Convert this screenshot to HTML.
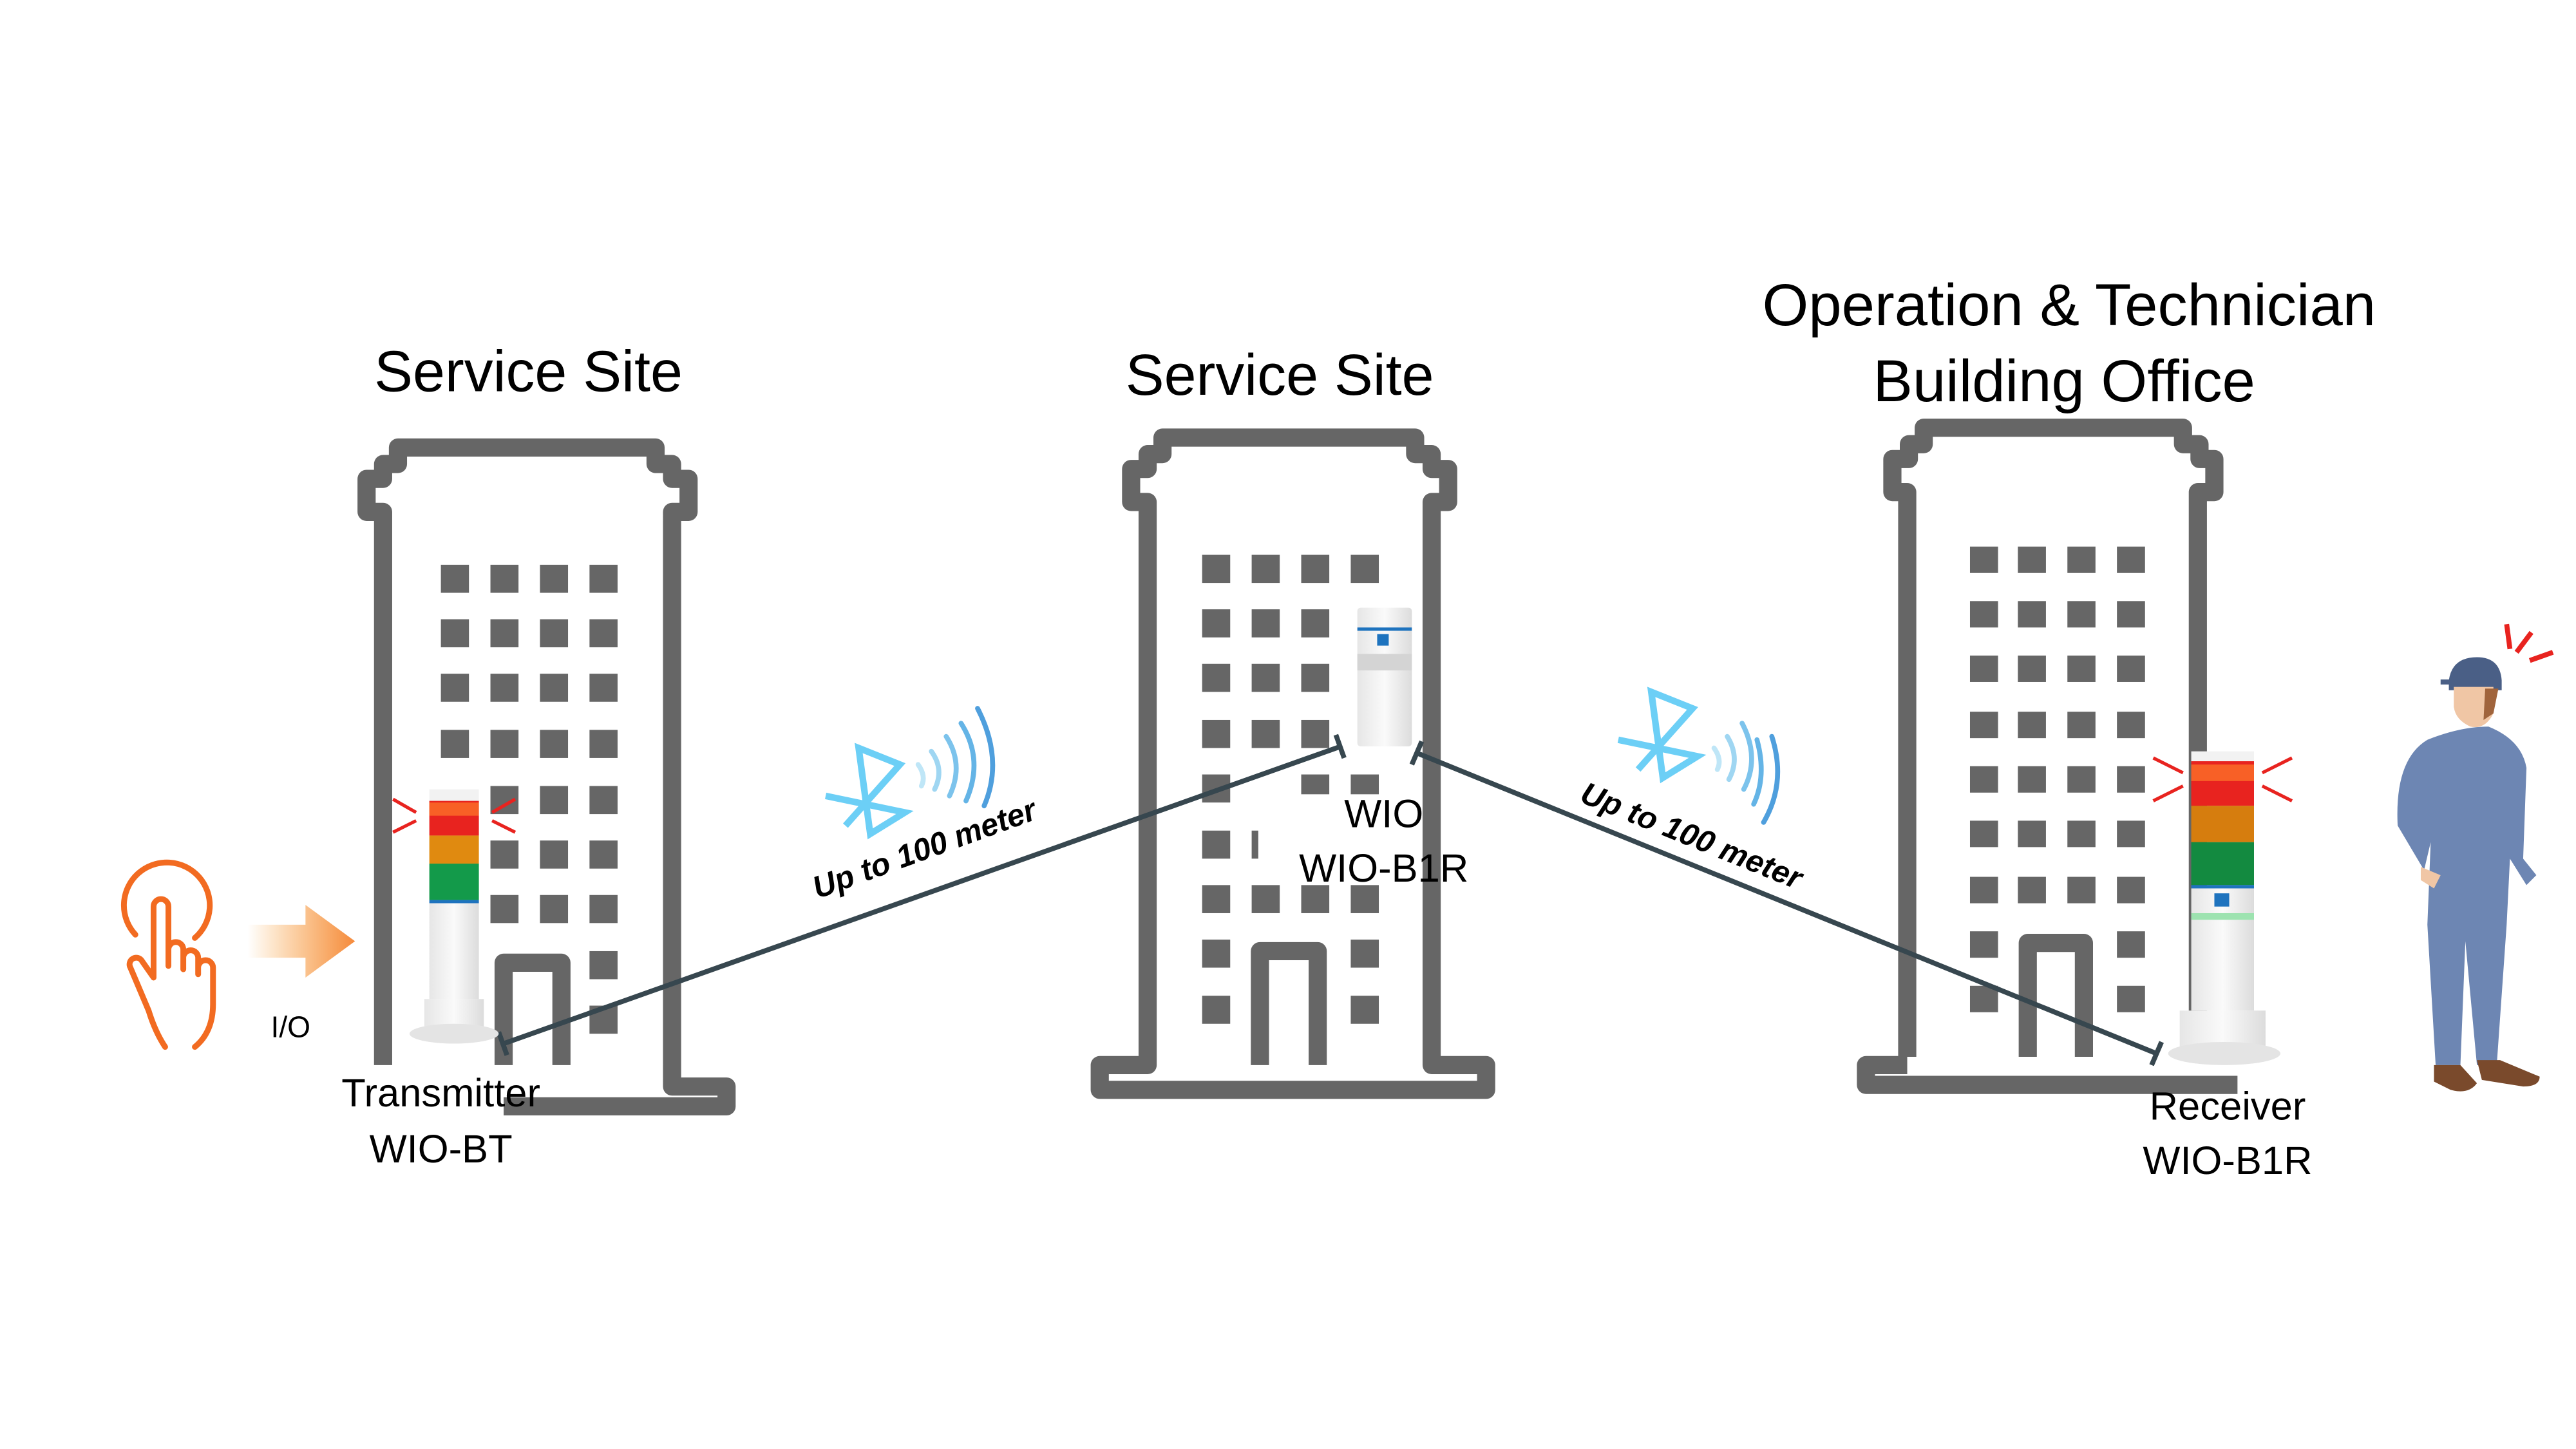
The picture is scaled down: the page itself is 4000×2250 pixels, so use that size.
<!DOCTYPE html>
<html><head><meta charset="utf-8"><style>
html,body{margin:0;padding:0;background:#fff;}
svg{display:block;}
text{font-family:"Liberation Sans",sans-serif;}
</style></head><body>
<svg width="4000" height="2250" viewBox="0 0 1560 877.5" xmlns="http://www.w3.org/2000/svg">
<defs>
<linearGradient id="arr" x1="0" x2="1"><stop offset="0" stop-color="#f7941d" stop-opacity="0"/><stop offset="1" stop-color="#f58a3c"/></linearGradient>
<linearGradient id="wh" x1="0" x2="1"><stop offset="0" stop-color="#e6e6e6"/><stop offset=".5" stop-color="#fafafa"/><stop offset="1" stop-color="#dcdcdc"/></linearGradient>
</defs>
<g fill="none" stroke="#666" stroke-width="11" stroke-linejoin="round">
<!-- building 1 -->
<path d="M232,645 V310 H222 V290 H232 V281 H241 V271 H397 V281 H407 V290 H417 V310 H407 V658 H440 V670 H305"/>
<path d="M305,645 V583 H340 V645"/>
<!-- building 2 -->
<path d="M695,645 V304 H685 V284 H695 V275 H704 V265 H857 V275 H867 V284 H877 V304 H867 V645 H900 V660 H666 V645 Z"/>
<path d="M763,645 V576 H798 V645"/>
<!-- building 3 -->
<path d="M1155,640 V298 H1146 V278 H1156 V269 H1165 V259 H1322 V269 H1332 V278 H1341 V298 H1331 V628"/>
<path d="M1155,645 H1130 V657 H1355"/>
<path d="M1228,640 V571 H1262 V640"/>
</g>
<g fill="#666">
<g>
<rect x="267" y="342" width="17" height="17"/><rect x="297" y="342" width="17" height="17"/><rect x="327" y="342" width="17" height="17"/><rect x="357" y="342" width="17" height="17"/>
<rect x="267" y="375" width="17" height="17"/><rect x="297" y="375" width="17" height="17"/><rect x="327" y="375" width="17" height="17"/><rect x="357" y="375" width="17" height="17"/>
<rect x="267" y="408" width="17" height="17"/><rect x="297" y="408" width="17" height="17"/><rect x="327" y="408" width="17" height="17"/><rect x="357" y="408" width="17" height="17"/>
<rect x="267" y="442" width="17" height="17"/><rect x="297" y="442" width="17" height="17"/><rect x="327" y="442" width="17" height="17"/><rect x="357" y="442" width="17" height="17"/>
<rect x="297" y="476" width="17" height="17"/><rect x="327" y="476" width="17" height="17"/><rect x="357" y="476" width="17" height="17"/>
<rect x="297" y="509" width="17" height="17"/><rect x="327" y="509" width="17" height="17"/><rect x="357" y="509" width="17" height="17"/>
<rect x="297" y="542" width="17" height="17"/><rect x="327" y="542" width="17" height="17"/><rect x="357" y="542" width="17" height="17"/>
<rect x="357" y="576" width="17" height="17"/><rect x="357" y="609" width="17" height="17"/>
</g>
<g>
<rect x="728" y="336" width="17" height="17"/><rect x="758" y="336" width="17" height="17"/><rect x="788" y="336" width="17" height="17"/><rect x="818" y="336" width="17" height="17"/>
<rect x="728" y="369" width="17" height="17"/><rect x="758" y="369" width="17" height="17"/><rect x="788" y="369" width="17" height="17"/>
<rect x="728" y="402" width="17" height="17"/><rect x="758" y="402" width="17" height="17"/><rect x="788" y="402" width="17" height="17"/>
<rect x="728" y="436" width="17" height="17"/><rect x="758" y="436" width="17" height="17"/><rect x="788" y="436" width="17" height="17"/>
<rect x="728" y="469" width="17" height="17"/><rect x="788" y="469" width="17" height="12"/><rect x="818" y="469" width="17" height="12"/>
<rect x="728" y="503" width="17" height="17"/><rect x="758" y="503" width="4" height="17"/>
<rect x="728" y="536" width="17" height="17"/><rect x="758" y="536" width="17" height="17"/><rect x="788" y="536" width="17" height="17"/><rect x="818" y="536" width="17" height="17"/>
<rect x="728" y="569" width="17" height="17"/><rect x="818" y="569" width="17" height="17"/>
<rect x="728" y="603" width="17" height="17"/><rect x="818" y="603" width="17" height="17"/>
</g>
<g>
<rect x="1193" y="331" width="17" height="16"/><rect x="1222" y="331" width="17" height="16"/><rect x="1252" y="331" width="17" height="16"/><rect x="1282" y="331" width="17" height="16"/>
<rect x="1193" y="364" width="17" height="16"/><rect x="1222" y="364" width="17" height="16"/><rect x="1252" y="364" width="17" height="16"/><rect x="1282" y="364" width="17" height="16"/>
<rect x="1193" y="397" width="17" height="16"/><rect x="1222" y="397" width="17" height="16"/><rect x="1252" y="397" width="17" height="16"/><rect x="1282" y="397" width="17" height="16"/>
<rect x="1193" y="431" width="17" height="16"/><rect x="1222" y="431" width="17" height="16"/><rect x="1252" y="431" width="17" height="16"/><rect x="1282" y="431" width="17" height="16"/>
<rect x="1193" y="464" width="17" height="16"/><rect x="1222" y="464" width="17" height="16"/><rect x="1252" y="464" width="17" height="16"/><rect x="1282" y="464" width="17" height="16"/>
<rect x="1193" y="497" width="17" height="16"/><rect x="1222" y="497" width="17" height="16"/><rect x="1252" y="497" width="17" height="16"/><rect x="1282" y="497" width="17" height="16"/>
<rect x="1193" y="531" width="17" height="16"/><rect x="1222" y="531" width="17" height="16"/><rect x="1252" y="531" width="17" height="16"/><rect x="1282" y="531" width="17" height="16"/>
<rect x="1193" y="564" width="17" height="16"/><rect x="1282" y="564" width="17" height="16"/>
<rect x="1193" y="597" width="17" height="16"/><rect x="1282" y="597" width="17" height="16"/>
</g>
</g>

<g fill="#000" font-size="35" text-anchor="middle">
<text x="320" y="237">Service Site</text>
<text x="775" y="239">Service Site</text>
<text x="1253" y="197" font-size="36">Operation &amp; Technician</text>
<text x="1250" y="243" font-size="36">Building Office</text>
</g>
<g fill="#000" font-size="24" text-anchor="middle">
<text x="267" y="670">Transmitter</text>
<text x="267" y="704">WIO-BT</text>
<text x="838" y="501">WIO</text>
<text x="838" y="534">WIO-B1R</text>
<text x="1349" y="678">Receiver</text>
<text x="1349" y="711">WIO-B1R</text>
<text x="176" y="628" font-size="18">I/O</text>
</g>

<g stroke="#37474f" stroke-width="3">
<line x1="305" y1="632" x2="812" y2="452"/>
<line x1="302" y1="625" x2="307" y2="639"/>
<line x1="809" y1="445" x2="814" y2="459"/>
<line x1="858" y1="456" x2="1306" y2="638"/>
<line x1="861" y1="449" x2="855" y2="463"/>
<line x1="1309" y1="631" x2="1303" y2="645"/>
</g>
<g font-size="19" font-weight="bold" font-style="italic" fill="#000" text-anchor="middle">
<text transform="translate(562,520) rotate(-20)">Up to 100 meter</text>
<text transform="translate(1022,512) rotate(22)">Up to 100 meter</text>
</g>

<g fill="none" stroke="#6ccff6" stroke-width="4" stroke-linejoin="miter">
<path d="M500,482 L548,492 L527,505 L520,453 L545,463 L512,500"/>
<path d="M980,448 L1028,458 L1007,471 L1000,419 L1025,429 L992,466"/>
</g>
<g fill="none" stroke-width="3" stroke-linecap="round">
<path d="M556,463 Q561,470 558,476" stroke="#bfe6f7"/>
<path d="M564,455 Q572,466 566,478" stroke="#9fd6f2"/>
<path d="M573,446 Q584,463 575,482" stroke="#7cc3ec"/>
<path d="M582,438 Q596,460 585,485" stroke="#64b4e6"/>
<path d="M592,429 Q608,460 596,488" stroke="#4f9fdd"/>
<path d="M1038,453 Q1043,460 1040,466" stroke="#bfe6f7"/>
<path d="M1046,446 Q1054,459 1047,472" stroke="#9fd6f2"/>
<path d="M1055,438 Q1066,459 1056,478" stroke="#7cc3ec"/>
<path d="M1064,448 Q1070,470 1062,487" stroke="#64b4e6"/>
<path d="M1073,446 Q1082,474 1068,498" stroke="#4f9fdd"/>
</g>

<g>
<rect x="260" y="478" width="30" height="8" fill="#f2f2f2"/>
<rect x="260" y="485" width="30" height="21" fill="#e8231f"/>
<rect x="260" y="486" width="30" height="8" fill="#ff7a2a" opacity=".7"/>
<rect x="260" y="506" width="30" height="17" fill="#e08a10"/>
<rect x="260" y="523" width="30" height="22" fill="#139a4a"/>
<rect x="260" y="545" width="30" height="2" fill="#1e73be"/>
<rect x="260" y="547" width="30" height="58" fill="url(#wh)"/>
<rect x="257" y="605" width="36" height="18" fill="url(#wh)"/>
<ellipse cx="275" cy="626" rx="27" ry="6" fill="#e4e4e4"/>
<g stroke="#e8231f" stroke-width="2"><line x1="238" y1="484" x2="252" y2="492"/><line x1="238" y1="504" x2="252" y2="497"/><line x1="312" y1="484" x2="298" y2="492"/><line x1="312" y1="504" x2="298" y2="497"/></g>
</g>
<g>
<rect x="822" y="368" width="33" height="84" rx="2" fill="url(#wh)"/>
<rect x="822" y="380" width="33" height="2" fill="#1e73be"/>
<rect x="834" y="384" width="7" height="7" fill="#1e73be"/>
<rect x="822" y="396" width="33" height="10" fill="#d4d4d4"/>
</g>
<g>
<rect x="1327" y="455" width="38" height="7" fill="#f2f2f2"/>
<rect x="1327" y="461" width="38" height="27" fill="#e8231f"/>
<rect x="1327" y="463" width="38" height="10" fill="#ff7a2a" opacity=".7"/>
<rect x="1327" y="488" width="38" height="22" fill="#d67d0e"/>
<rect x="1327" y="510" width="38" height="26" fill="#138a40"/>
<rect x="1327" y="536" width="38" height="2" fill="#1e73be"/>
<rect x="1327" y="538" width="38" height="74" fill="url(#wh)"/>
<rect x="1341" y="541" width="9" height="8" fill="#1e73be"/>
<rect x="1327" y="553" width="38" height="4" fill="#9de3b0"/>
<rect x="1320" y="612" width="52" height="24" fill="url(#wh)"/>
<ellipse cx="1347" cy="638" rx="34" ry="7" fill="#e4e4e4"/>
<g stroke="#e8231f" stroke-width="2"><line x1="1304" y1="459" x2="1322" y2="468"/><line x1="1304" y1="485" x2="1322" y2="476"/><line x1="1388" y1="459" x2="1370" y2="468"/><line x1="1388" y1="485" x2="1370" y2="476"/></g>
</g>

<polygon points="150,560 185,560 185,548 215,570 185,592 185,580 150,580" fill="url(#arr)"/>
<g fill="none" stroke="#f26b21" stroke-width="3.5" stroke-linecap="round" stroke-linejoin="round">
<path d="M82,566 A26,26 0 1 1 118,568"/>
<path d="M93,592 V549 a4.5,4.5 0 0 1 9,0 V585 M102,575 a4.5,4.5 0 0 1 9,0 V587 M111,580 a4.5,4.5 0 0 1 9,0 V590 M120,586 a4.5,4.5 0 0 1 9,0 V608 Q129,625 118,634 M93,592 L86,582 a4,4 0 0 0 -7,4 L90,612 Q94,625 100,634"/>
</g>

<g>
<g stroke="#e8231f" stroke-width="3"><line x1="1518" y1="378" x2="1520" y2="393"/><line x1="1533" y1="383" x2="1524" y2="395"/><line x1="1546" y1="395" x2="1532" y2="400"/></g>
<path d="M1483,412 Q1485,398 1500,398 Q1514,398 1515,412 L1515,418 L1483,418 Z" fill="#4a5f86"/>
<path d="M1478,413 H1492" stroke="#4a5f86" stroke-width="3"/>
<path d="M1486,416 H1510 V432 Q1505,442 1496,440 Q1487,436 1486,428 Z" fill="#f0c6a5"/>
<path d="M1505,417 L1513,417 L1510,432 L1504,436 Z" fill="#a0643c"/>
<path d="M1470,448 Q1490,440 1507,440 Q1527,448 1530,465 L1528,520 L1536,530 L1530,536 L1520,520 L1518,560 L1512,645 L1500,645 L1493,570 L1490,645 L1475,645 L1470,560 L1472,510 L1468,527 L1452,500 Q1450,460 1470,448 Z" fill="#6d86b3"/>
<path d="M1474,645 H1490 L1500,656 Q1495,663 1484,660 L1474,655 Z" fill="#7a4a2c"/>
<path d="M1500,642 H1514 L1538,652 Q1538,658 1528,658 L1503,654 Z" fill="#7a4a2c"/>
<path d="M1466,525 L1478,530 L1474,538 L1466,533 Z" fill="#f0c6a5"/>
</g>
</svg>
</body></html>
